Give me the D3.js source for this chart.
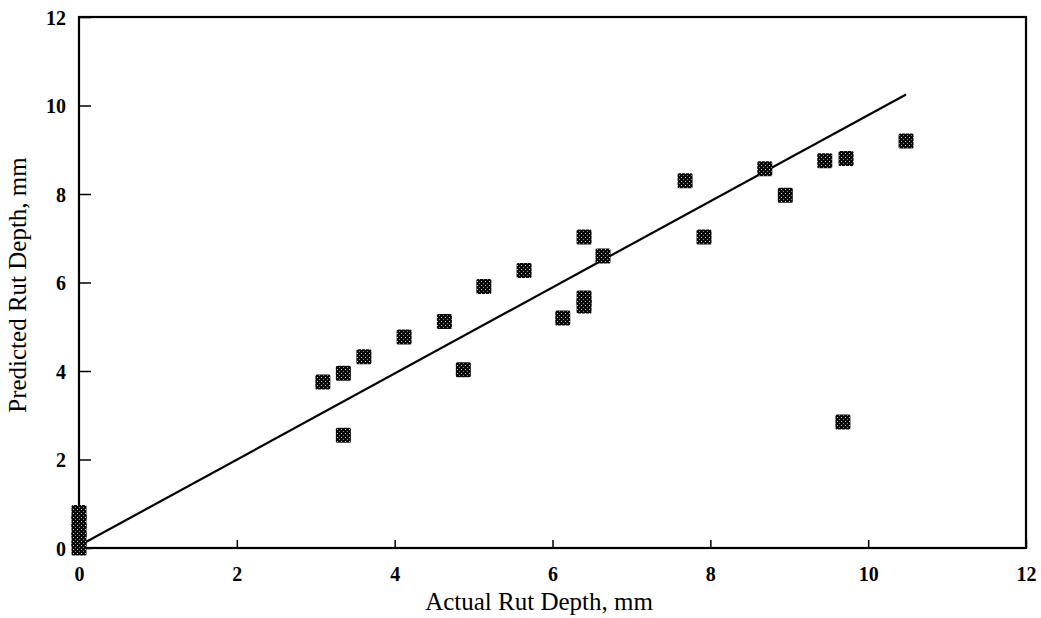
<!DOCTYPE html>
<html><head><meta charset="utf-8">
<script src="https://cdn.jsdelivr.net/npm/d3@7"></script>
<style>body{margin:0;background:#fff}svg{display:block}text{font-family:"Liberation Serif","Times New Roman",serif;fill:#000}</style>
</head><body><svg id="c" width="1041" height="618"></svg>
<script>
const actual    = [0,0,0,0,0,3.09,3.35,3.35,3.61,4.12,4.63,4.87,5.13,5.64,6.13,6.40,6.40,6.40,6.64,7.68,7.92,8.69,8.95,9.45,9.72,9.68,10.48];
const predicted = [0,0.2,0.4,0.6,0.8,3.75,3.95,2.55,4.32,4.77,5.12,4.03,5.91,6.27,5.20,5.47,5.65,7.03,6.60,8.30,7.03,8.57,7.97,8.75,8.80,2.85,9.20];
const lineX = [0, 10.48];
const lineY = [0.05, 10.25];
const xTicks = [0,2,4,6,8,10,12];
const yTicks = [0,2,4,6,8,10,12];
const xTitle = "Actual Rut Depth, mm";
const yTitle = "Predicted Rut Depth, mm";

const svg = d3.select("#c");
const x = d3.scaleLinear().domain([0,12]).range([79,1026]);
const y = d3.scaleLinear().domain([0,12]).range([548,17]);

const defs = svg.append("defs");
const pat = defs.append("pattern").attr("id","dots").attr("patternUnits","userSpaceOnUse")
  .attr("width",4).attr("height",4);
pat.append("rect").attr("width",4).attr("height",4).attr("fill","#0a0a0a");
pat.append("rect").attr("x",1).attr("y",1).attr("width",1).attr("height",1).attr("fill","#cfcfcf");
pat.append("rect").attr("x",3).attr("y",3).attr("width",1).attr("height",1).attr("fill","#8a8a8a");

svg.append("rect").attr("x",x(0)).attr("y",y(12)).attr("width",x(12)-x(0)).attr("height",y(0)-y(12))
  .attr("fill","none").attr("stroke","#000").attr("stroke-width",2.2);

const xAxis = d3.axisBottom(x).tickValues(xTicks).tickSize(-8).tickPadding(19).tickFormat(d3.format("d"));
const yAxis = d3.axisLeft(y).tickValues(yTicks).tickSize(-12).tickPadding(13).tickFormat(d3.format("d"));
const gx = svg.append("g").attr("transform",`translate(0,${y(0)})`).call(xAxis);
const gy = svg.append("g").attr("transform",`translate(${x(0)},0)`).call(yAxis);
[gx,gy].forEach(g=>{
  g.select(".domain").remove();
  g.selectAll("line").attr("stroke","#000").attr("stroke-width",1.5);
  g.selectAll("text").attr("font-family","Liberation Serif").attr("font-size",20).attr("font-weight","bold").attr("fill","#000");
});
gy.selectAll("text").attr("dy","0.35em");

svg.append("line").attr("x1",x(lineX[0])).attr("y1",y(lineY[0])).attr("x2",x(lineX[1])).attr("y2",y(lineY[1]))
  .attr("stroke","#000").attr("stroke-width",2.2);

const s = 15;
svg.append("g").selectAll("rect").data(actual.map((a,i)=>[a,predicted[i]])).join("rect")
  .attr("x",d=>x(d[0])-s/2).attr("y",d=>y(d[1])-s/2).attr("width",s).attr("height",s)
  .attr("rx",1.5).attr("fill","url(#dots)");

svg.append("text").attr("x",539).attr("y",610).attr("text-anchor","middle")
  .attr("font-size",25).text(xTitle);
svg.append("text").attr("transform",`translate(26,285) rotate(-90)`).attr("text-anchor","middle")
  .attr("font-size",25).text(yTitle);
</script></body></html>
